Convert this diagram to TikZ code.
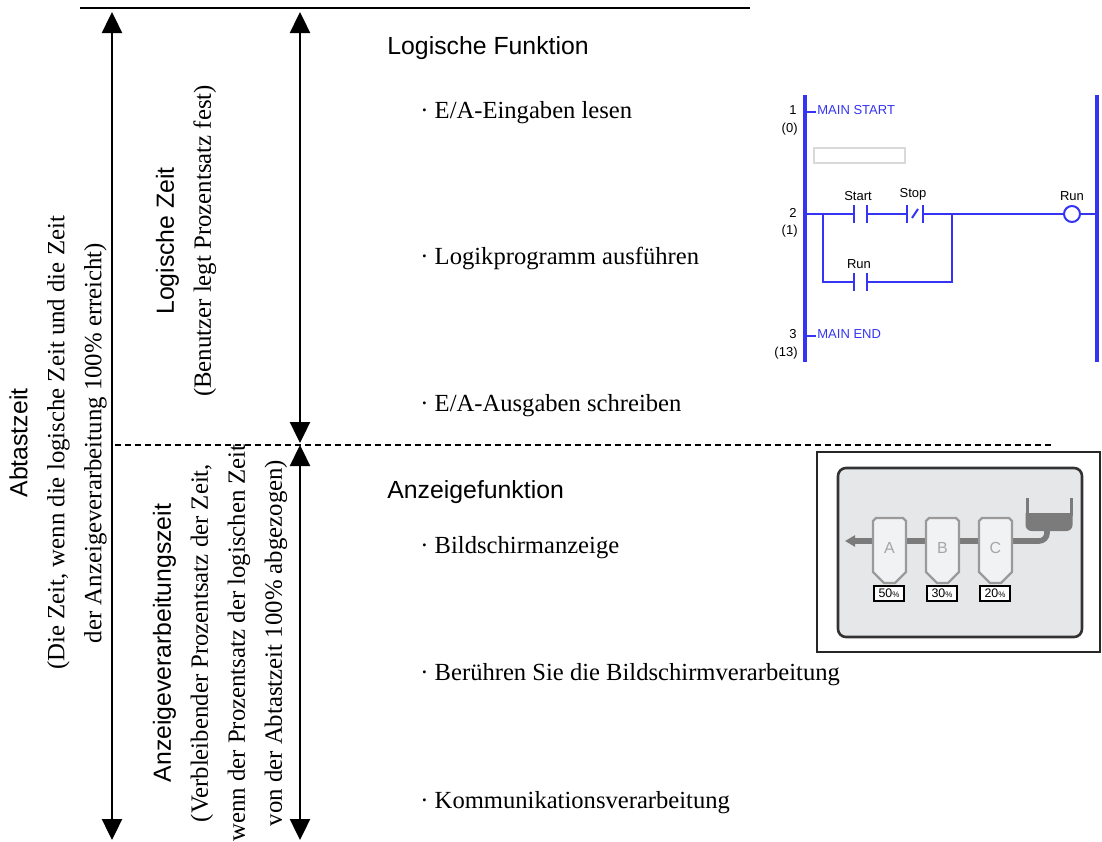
\documentclass[tikz,border=0pt]{standalone}
\usepackage{fontspec}
\setmainfont{Liberation Serif}
\setsansfont{Liberation Sans}
\usetikzlibrary{arrows.meta, positioning}
\definecolor{Ladder}{HTML}{3434F2}
\definecolor{Panel}{HTML}{E6E7E8}
\definecolor{Silo}{HTML}{F1F2F3}
\definecolor{SiloEdge}{HTML}{9A9A9A}
\definecolor{Pipe}{HTML}{7B7B7B}
\definecolor{Letter}{HTML}{A6A6A6}
\tikzset{
    timearrow/.style={{Triangle[width=10pt,length=10.5pt]}-{Triangle[width=10pt,length=10.5pt]}, line width=1.2pt},
    headtext/.style={anchor=base west, inner sep=0pt, font=\sffamily\fontsize{12.4}{15}\selectfont},
    itemtext/.style={anchor=base west, inner sep=0pt, font=\fontsize{12.3}{15}\selectfont},
    sidetext/.style={rotate=90, align=center, inner sep=0pt, font=\fontsize{12.4}{18.5}\selectfont},
    rail/.style={Ladder, line width=1.6pt},
    rung/.style={Ladder, line width=1pt},
    laddertext/.style={inner sep=0pt, font=\sffamily\fontsize{6.5}{7}\selectfont},
    silo/.style={fill=Silo, draw=SiloEdge, line width=1.1pt},
    pctbox/.style={draw=black, fill=white, line width=0.6pt, minimum width=15pt, minimum height=7.5pt, inner sep=0pt, font=\sffamily\fontsize{6.2}{6}\selectfont},
}

\begin{document}
\begin{tikzpicture}[x=0.5pt, y=-0.5pt]
    \useasboundingbox (0,0) rectangle (1102,841);

    % Zeitachsen
    \draw[line width=1.2pt] (80,8) -- (750,8);
    \coordinate (scanTop) at (112,12);
    \coordinate (scanBot) at (112,840);
    \coordinate (logTop) at (300,12);
    \coordinate (logBot) at (300,443);
    \coordinate (dispTop) at (300,445);
    \coordinate (dispBot) at (300,840);
    \draw[timearrow] (scanTop) -- (scanBot);
    \draw[timearrow] (logTop) -- (logBot);
    \draw[timearrow] (dispTop) -- (dispBot);
    \coordinate (sepL) at (115,445);
    \coordinate (sepR) at (1052,445);
    \draw[line width=1pt, dash pattern=on 3pt off 2pt] (sepL) -- (sepR);

    % senkrechte Beschriftungen
    \node[sidetext] (scantime) at (58,443) {\textsf{Abtastzeit}\\(Die Zeit, wenn die logische Zeit und die Zeit\\der Anzeigeverarbeitung 100\% erreicht)};
    \node[sidetext] (logtime) at (186,241) {\textsf{Logische Zeit}\\(Benutzer legt Prozentsatz fest)};
    \node[sidetext] (disptime) at (220,643) {\textsf{Anzeigeverarbeitungszeit}\\(Verbleibender Prozentsatz der Zeit,\\wenn der Prozentsatz der logischen Zeit\\von der Abtastzeit 100\% abgezogen)};

    % Funktionen
    \node[headtext] (logfunc) at (387,54) {Logische Funktion};
    \node[itemtext] (read) at (420,118) {· E/A-Eingaben lesen};
    \node[itemtext] (run) at (420,264) {· Logikprogramm ausführen};
    \node[itemtext] (write) at (420,411) {· E/A-Ausgaben schreiben};
    \node[headtext] (dispfunc) at (387,498) {Anzeigefunktion};
    \node[itemtext] (screen) at (420,553) {· Bildschirmanzeige};
    \node[itemtext] (touch) at (420,680) {· Berühren Sie die Bildschirmverarbeitung};
    \node[itemtext] (comm) at (420,808) {· Kommunikationsverarbeitung};

    % Kontaktplan
    \draw[rail] (805,95) -- (805,362);
    \draw[rail] (1097,95) -- (1097,362);
    \node[laddertext, anchor=east] (n1) at (797,110) {1};
    \node[laddertext, anchor=east] (s1) at (798,129) {(0)};
    \node[laddertext, anchor=east] (n2) at (797,213) {2};
    \node[laddertext, anchor=east] (s2) at (798,231) {(1)};
    \node[laddertext, anchor=east] (n3) at (797,334) {3};
    \node[laddertext, anchor=east] (s3) at (798,353) {(13)};
    \draw[rung] (805,112) -- (816,112);
    \node[laddertext, anchor=west, text=Ladder] (mstart) at (817,110) {MAIN START};
    \draw[rung] (805,336) -- (816,336);
    \node[laddertext, anchor=west, text=Ladder] (mend) at (817,334) {MAIN END};
    \draw[black!15, line width=0.8pt] (814,148) rectangle (905,163);

    % Strompfad 2
    \draw[rung] (805,214) -- (854,214);
    \draw[rung] (854,205) -- (854,223) (867,205) -- (867,223);
    \draw[rung] (867,214) -- (907,214);
    \draw[rung] (907,205) -- (907,223) (923,205) -- (923,223);
    \draw[rung] (912,218) -- (918,209);
    \draw[rung] (923,214) -- (1064,214);
    \node[draw=Ladder, line width=1pt, circle, minimum size=8pt, inner sep=0pt] (coil) at (1072,214) {};
    \draw[rung] (coil.east) -- (1097,214);
    \draw[rung] (823,214) |- (854,282);
    \draw[rung] (854,273) -- (854,291) (867,273) -- (867,291);
    \draw[rung] (867,282) -| (952,214);
    \node[laddertext] (lstart) at (858,196) {Start};
    \node[laddertext] (lstop) at (913,194) {Stop};
    \node[laddertext] (lrun) at (1072,196) {Run};
    \node[laddertext] (lrunb) at (859,264) {Run};

    % Bedienfeld
    \draw[line width=0.9pt, black!85] (817,452) rectangle (1100,652);
    \draw[fill=Panel, draw=black!80, line width=1.3pt, rounded corners=4pt] (838,468) rectangle (1082,637);
    \fill[Pipe] (1025.5,513) [rounded corners=3pt] -- (1025.5,531) -- (1072.5,531) [sharp corners] -- (1072.5,513) -- cycle;
    \draw[Pipe, line width=1.5pt] (1027,498) -- (1027,516) (1071,498) -- (1071,516);
    \draw[Pipe, line width=2.8pt, rounded corners=4pt, -{Triangle[width=5.5pt,length=5pt]}] (1047,528) |- (845,541);
    \foreach \sx/\sl/\sp in {873/A/50, 926/B/30, 979/C/20} {
        \draw[silo] (\sx,521) -- ++(3,-3) -- ++(27,0) -- ++(3,3) -- ++(0,51) -- ++(-11,11) -- ++(-11,0) -- ++(-11,-11) -- cycle;
        \node[text=Letter, font=\sffamily\fontsize{8}{8}\selectfont] (silo-\sl) at (\sx+16.5,548) {\sl};
        \node[pctbox] (pct-\sl) at (\sx+16,593.5) {\sp{\fontsize{4}{4}\selectfont\%}};
    }
\end{tikzpicture}
\end{document}
